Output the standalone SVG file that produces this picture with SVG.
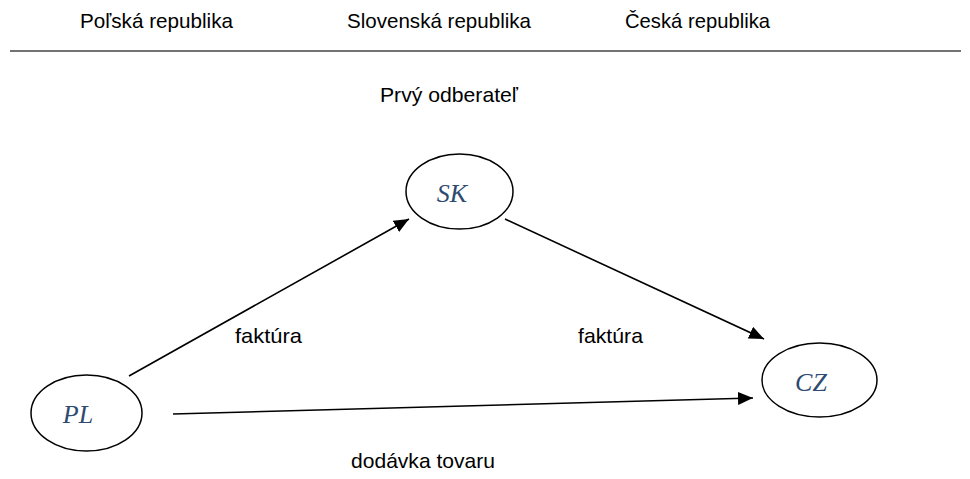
<svg xmlns="http://www.w3.org/2000/svg" width="970" height="479" viewBox="0 0 970 479">
<style>
  .lbl { font-family: "Liberation Sans", Arial, sans-serif; font-size: 21px; fill: #000; }
  .node { fill: #fff; stroke: #000; stroke-width: 1.5; }
  .ntxt { font-family: "Liberation Serif", "Times New Roman", serif; font-style: italic; font-size: 26px; fill: #2E4A70; text-anchor: middle; }
  .conn { stroke: #000; stroke-width: 1.6; fill: none; marker-end: url(#arr); }
</style>
<defs>
  <marker id="arr" markerUnits="userSpaceOnUse" markerWidth="16" markerHeight="13" refX="15" refY="6.5" orient="auto">
    <path d="M0,0 L15,6.5 L0,13 z" fill="#000"/>
  </marker>
</defs>
<rect width="970" height="479" fill="#fff"/>
<g id="header">
  <text class="lbl" x="80" y="28" textLength="153" lengthAdjust="spacingAndGlyphs">Poľská republika</text>
  <text class="lbl" x="347" y="28" textLength="184" lengthAdjust="spacingAndGlyphs">Slovenská republika</text>
  <text class="lbl" x="625" y="28" textLength="145" lengthAdjust="spacingAndGlyphs">Česká republika</text>
  <line x1="10" y1="51" x2="961" y2="51" stroke="#444" stroke-width="1.5"/>
  <text class="lbl" x="380" y="102" textLength="138" lengthAdjust="spacingAndGlyphs">Prvý odberateľ</text>
</g>
<g id="connectors">
  <line class="conn" x1="129" y1="376" x2="409" y2="219"/>
  <line class="conn" x1="505" y1="219" x2="764" y2="339"/>
  <line class="conn" x1="173" y1="414" x2="753" y2="398"/>
  <text class="lbl" x="235" y="343" textLength="67" lengthAdjust="spacingAndGlyphs">faktúra</text>
  <text class="lbl" x="578" y="343" textLength="65" lengthAdjust="spacingAndGlyphs">faktúra</text>
  <text class="lbl" x="351" y="468" textLength="144" lengthAdjust="spacingAndGlyphs">dodávka tovaru</text>
</g>
<g id="node-SK">
  <ellipse class="node" cx="459.5" cy="191.5" rx="53.5" ry="37.5"/>
  <text class="ntxt" x="452" y="202">SK</text>
</g>
<g id="node-PL">
  <ellipse class="node" cx="86.5" cy="413" rx="55.5" ry="38"/>
  <text class="ntxt" x="78" y="423">PL</text>
</g>
<g id="node-CZ">
  <ellipse class="node" cx="819.5" cy="380" rx="57.5" ry="37"/>
  <text class="ntxt" x="811" y="391">CZ</text>
</g>
</svg>
